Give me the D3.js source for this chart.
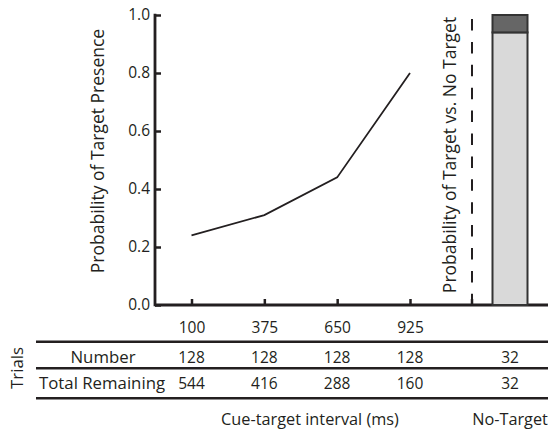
<!DOCTYPE html>
<html>
<head>
<meta charset="utf-8">
<script src="https://cdn.jsdelivr.net/npm/d3@7"></script>
<style>
  body { margin: 0; background: #fff; }
  svg text { font-family: "Open Sans", sans-serif; fill: #231f20; }
</style>
</head>
<body>
<svg id="chart" width="548" height="431"></svg>
<script>
// data
const intervals = [100, 375, 650, 925];
const probTarget = [0.24, 0.31, 0.44, 0.80];
const numberTrials = [128, 128, 128, 128];
const remainingTrials = [544, 416, 288, 160];
const noTargetNumber = 32;
const noTargetRemaining = 32;
const noTargetBar = [
  {key: 'target', from: 0, to: 0.94, fill: '#d9d9d9'},
  {key: 'noTarget', from: 0.94, to: 1.0, fill: '#666666'}
];
const yTicks = [0, 0.2, 0.4, 0.6, 0.8, 1.0];

const ink = '#231f20';
const svg = d3.select('#chart');

const plotLeft = 155, plotTop = 15, plotBottom = 305, plotRight = 548;
const x = d3.scaleLinear().domain([100, 925]).range([191.5, 410]);
const y = d3.scaleLinear().domain([0, 1]).range([plotBottom, plotTop]);
const dashX = 472;
const barX = d3.scaleBand().domain(['noTarget']).range([492.5, 527.5]);

const numSize = 15.5, wordSize = 16.8, titleSize = 17.5;

// y axis
const yAxis = svg.append('g')
    .attr('transform', 'translate(' + plotLeft + ',0)')
    .call(d3.axisLeft(y).tickValues(yTicks).tickFormat(d3.format('.1f'))
      .tickSize(-6).tickSizeOuter(0).tickPadding(5));
yAxis.select('.domain').remove();
yAxis.selectAll('line').attr('stroke', ink).attr('stroke-width', 2.5);
yAxis.selectAll('text').attr('font-size', numSize).attr('font-family', null);

svg.append('line')
    .attr('x1', plotLeft).attr('x2', plotLeft)
    .attr('y1', y(1) - 1.25).attr('y2', plotBottom + 1.25)
    .attr('stroke', ink).attr('stroke-width', 2.8);

// x axis
const xAxis = svg.append('g')
    .attr('transform', 'translate(0,' + plotBottom + ')')
    .call(d3.axisBottom(x).tickValues(intervals).tickFormat(d3.format('d'))
      .tickSize(-6).tickSizeOuter(0).tickPadding(17));
xAxis.select('.domain').remove();
xAxis.selectAll('line').attr('stroke', ink).attr('stroke-width', 2.5);
xAxis.selectAll('text').attr('font-size', numSize).attr('font-family', null);

svg.append('line')
    .attr('x1', plotLeft).attr('x2', plotRight)
    .attr('y1', plotBottom).attr('y2', plotBottom)
    .attr('stroke', ink).attr('stroke-width', 2.8);

// tick under dashed divider
svg.append('line')
    .attr('x1', dashX).attr('x2', dashX)
    .attr('y1', plotBottom).attr('y2', plotBottom - 6)
    .attr('stroke', ink).attr('stroke-width', 2.5);

// line
const line = d3.line()
    .x((d, i) => x(intervals[i]))
    .y(d => y(d));
svg.append('path')
    .datum(probTarget)
    .attr('d', line)
    .attr('fill', 'none')
    .attr('stroke', ink)
    .attr('stroke-width', 1.8);

// dashed divider
svg.append('line')
    .attr('x1', dashX).attr('x2', dashX)
    .attr('y1', 19).attr('y2', plotBottom)
    .attr('stroke', ink).attr('stroke-width', 2)
    .attr('stroke-dasharray', '11.5,11.4');

// stacked bar
svg.selectAll('.seg')
    .data(noTargetBar)
    .enter().append('rect')
    .attr('class', 'seg')
    .attr('x', barX('noTarget'))
    .attr('width', barX.bandwidth())
    .attr('y', d => y(d.to))
    .attr('height', d => y(d.from) - y(d.to))
    .attr('fill', d => d.fill)
    .attr('stroke', '#333')
    .attr('stroke-width', 2);

// axis titles
svg.append('text')
    .attr('transform', 'translate(103.5,151) rotate(-90)')
    .attr('text-anchor', 'middle')
    .attr('font-size', titleSize)
    .text('Probability of Target Presence');

svg.append('text')
    .attr('transform', 'translate(456,155) rotate(-90)')
    .attr('text-anchor', 'middle')
    .attr('font-size', titleSize)
    .text('Probability of Target vs. No Target');

// table
const tableLines = [341.7, 368.3, 398.3];
svg.selectAll('.rule')
    .data(tableLines)
    .enter().append('line')
    .attr('class', 'rule')
    .attr('x1', 36).attr('x2', plotRight)
    .attr('y1', d => d).attr('y2', d => d)
    .attr('stroke', ink).attr('stroke-width', 2.6);

const barCenter = barX('noTarget') + barX.bandwidth() / 2;
const rows = [
  {label: 'Number', labelX: 103, anchor: 'middle', base: 362.5, vals: numberTrials, extra: noTargetNumber},
  {label: 'Total Remaining', labelX: 39, anchor: 'start', base: 389, vals: remainingTrials, extra: noTargetRemaining}
];
rows.forEach(r => {
  svg.append('text')
      .attr('x', r.labelX).attr('y', r.base)
      .attr('text-anchor', r.anchor)
      .attr('font-size', wordSize)
      .text(r.label);
  svg.selectAll(null)
      .data(r.vals)
      .enter().append('text')
      .attr('x', (d, i) => x(intervals[i]))
      .attr('y', r.base)
      .attr('text-anchor', 'middle')
      .attr('font-size', numSize)
      .text(d => d);
  svg.append('text')
      .attr('x', barCenter).attr('y', r.base)
      .attr('text-anchor', 'middle')
      .attr('font-size', numSize)
      .text(r.extra);
});

svg.append('text')
    .attr('transform', 'translate(23,368) rotate(-90)')
    .attr('text-anchor', 'middle')
    .attr('font-size', wordSize)
    .text('Trials');

svg.append('text')
    .attr('x', 310).attr('y', 425)
    .attr('text-anchor', 'middle')
    .attr('font-size', wordSize - 0.5)
    .text('Cue-target interval (ms)');

svg.append('text')
    .attr('x', barCenter).attr('y', 425)
    .attr('text-anchor', 'middle')
    .attr('font-size', wordSize - 0.5)
    .text('No-Target');
</script>
</body>
</html>
